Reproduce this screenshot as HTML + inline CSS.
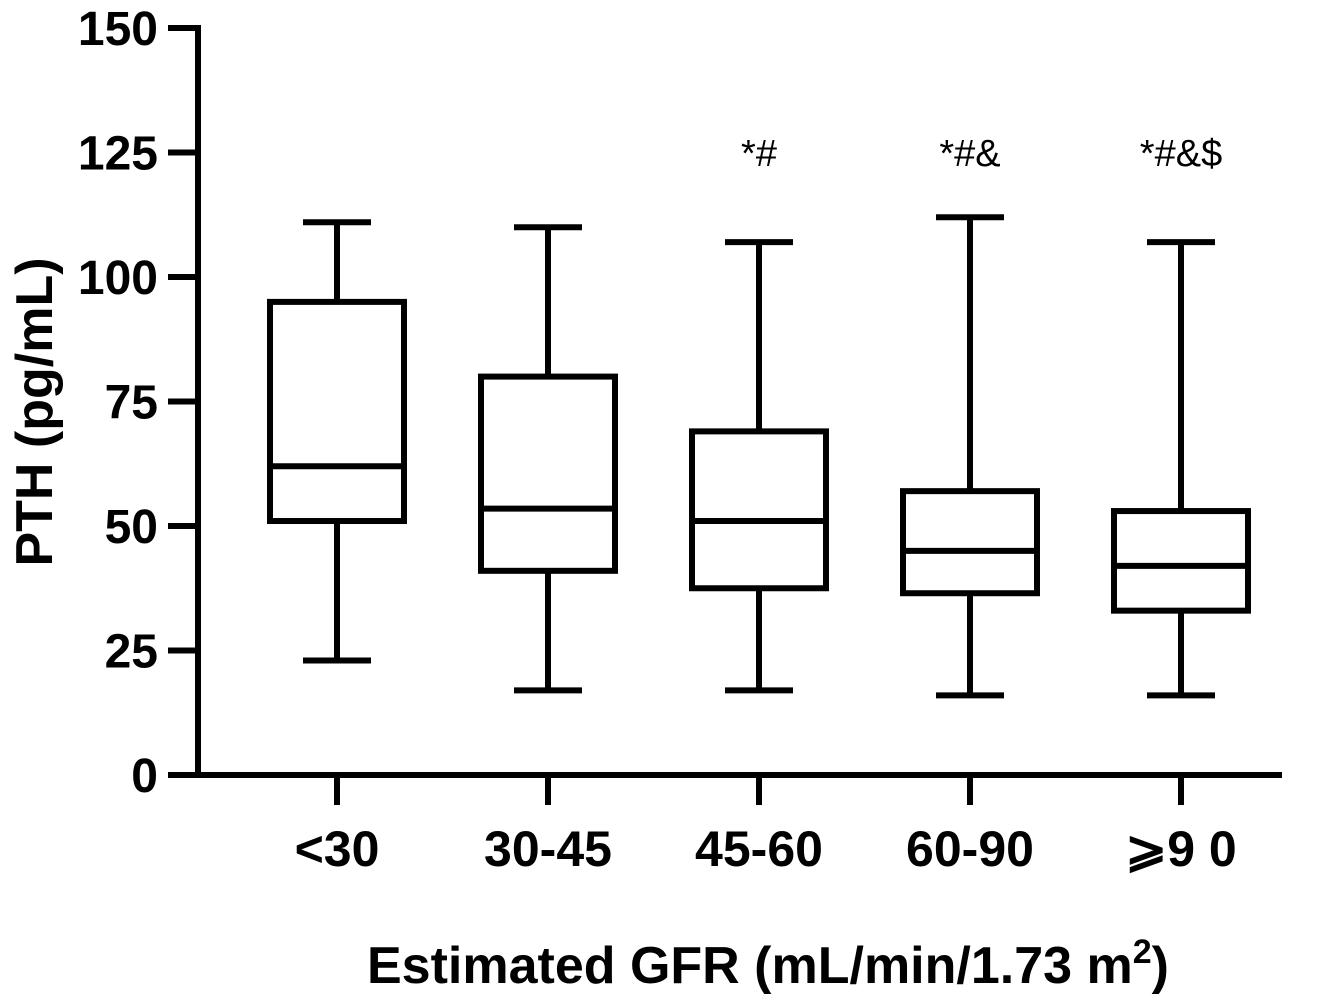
<!DOCTYPE html>
<html><head><meta charset="utf-8"><style>
html,body{margin:0;padding:0;background:#fff;}
svg{display:block;font-family:"Liberation Sans",Arial,sans-serif;}
</style></head><body>
<svg id="chart" width="1333" height="1000" viewBox="0 0 1333 1000"></svg>
<script>
const categories=["<30","30-45","45-60","60-90","\u2a7e9 0"];
const whiskerMax=[111,110,107,112,107];
const q3=[95,80,69,57,53];
const medians=[62,53.5,51,45,42];
const q1=[51,41,37.5,36.5,33];
const whiskerMin=[23,17,17,16,16];
const annotations=["","","*#","*#&","*#&$"];
const yTicks=[0,25,50,75,100,125,150];

const NS="http://www.w3.org/2000/svg";
const svg=document.getElementById('chart');
const y0=775,y150=28;
function yS(v){return y0-(v/150)*(y0-y150);}
function xS(i){return 337+i*211;}
function mk(tag,attrs,parent){const e=document.createElementNS(NS,tag);for(const k in attrs)e.setAttribute(k,attrs[k]);(parent||svg).appendChild(e);return e;}
const SW=6;
let ax=mk('line',{x1:198,y1:y150-3,x2:198,y2:y0+3,stroke:'#000','stroke-width':SW});


ax=mk('line',{x1:195,y1:y0,x2:1282,y2:y0,stroke:'#000','stroke-width':SW});


yTicks.forEach(t=>{
  const l=mk('line',{x1:168,y1:yS(t),x2:198,y2:yS(t),stroke:'#000','stroke-width':SW});
  
  
  const tx=mk('text',{x:158,y:yS(t)+17,'text-anchor':'end','font-size':48,'font-weight':'bold'});
  tx.textContent=t;
  
  
});
categories.forEach((c,i)=>{
  const cx=xS(i);
  const l=mk('line',{x1:cx,y1:y0,x2:cx,y2:y0+30,stroke:'#000','stroke-width':SW});
  
  
  const tx=mk('text',{x:cx,y:866,'text-anchor':'middle','font-size':50,'font-weight':'bold'});
  tx.textContent=c;
  
  
  const g=mk('g',{stroke:'#000','stroke-width':SW,fill:'none'});
  
  
  const hw=67,cw=34;
  mk('line',{x1:cx,y1:yS(whiskerMax[i]),x2:cx,y2:yS(q3[i])},g);
  mk('line',{x1:cx,y1:yS(q1[i]),x2:cx,y2:yS(whiskerMin[i])},g);
  mk('line',{x1:cx-cw,y1:yS(whiskerMax[i]),x2:cx+cw,y2:yS(whiskerMax[i])},g);
  mk('line',{x1:cx-cw,y1:yS(whiskerMin[i]),x2:cx+cw,y2:yS(whiskerMin[i])},g);
  mk('rect',{x:cx-hw,y:yS(q3[i]),width:hw*2,height:yS(q1[i])-yS(q3[i])},g);
  mk('line',{x1:cx-hw,y1:yS(medians[i]),x2:cx+hw,y2:yS(medians[i])},g);
  if(annotations[i]){
    const a=mk('text',{x:cx,y:166,'text-anchor':'middle','font-size':38});
    a.textContent=annotations[i];
    
    
  }
});
const yt=mk('text',{x:0,y:0,'text-anchor':'middle','font-size':52,'font-weight':'bold',transform:'translate(52,412) rotate(-90)'});
yt.textContent='PTH (pg/mL)';


const xt=mk('text',{x:768,y:983,'text-anchor':'middle','font-size':52,'font-weight':'bold'});
xt.innerHTML='Estimated GFR (mL/min/1.73 m<tspan dy="-20" font-size="34">2</tspan><tspan dy="20">)</tspan>';


</script>
</body></html>
